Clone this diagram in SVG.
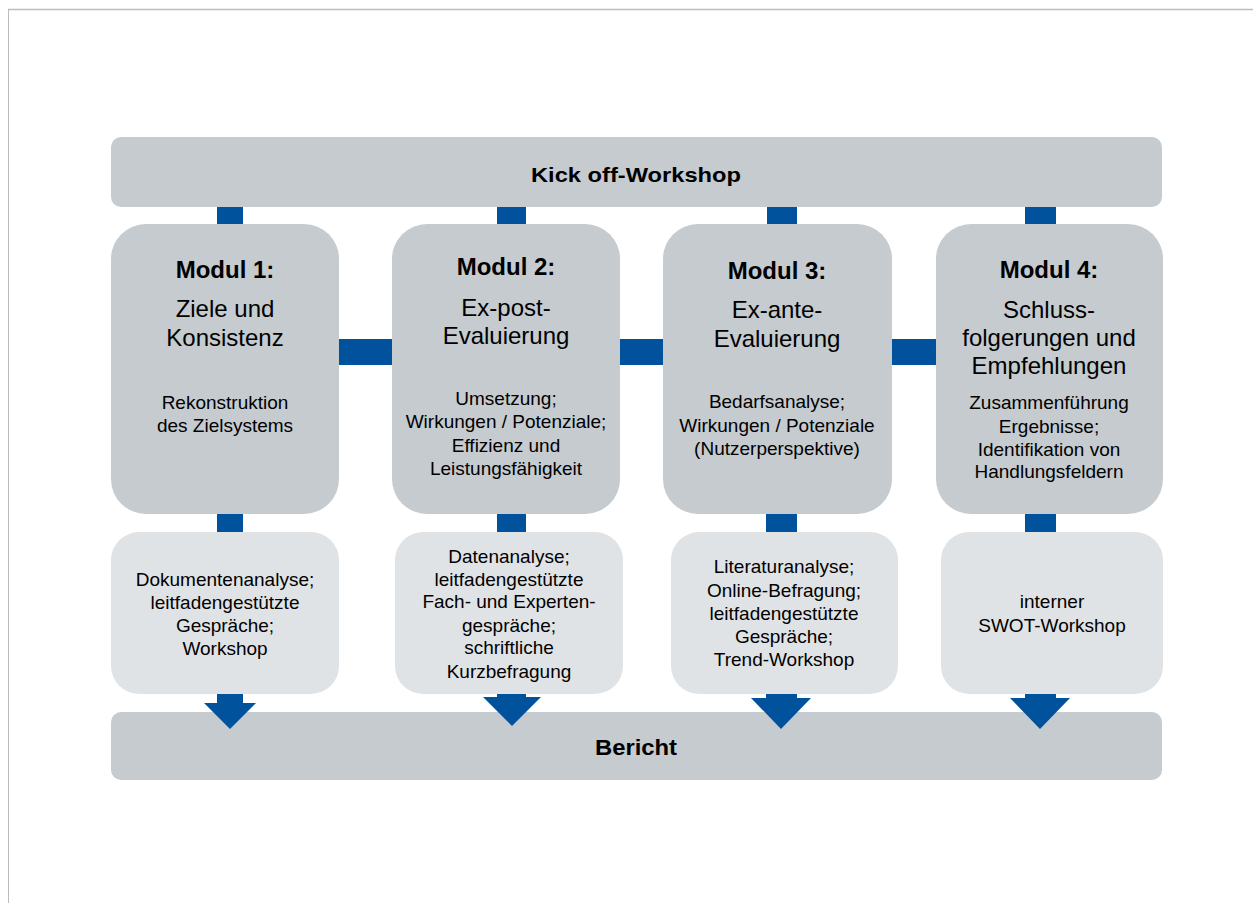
<svg xmlns="http://www.w3.org/2000/svg" width="1253" height="903" viewBox="0 0 1253 903">
<style>
text{font-family:"Liberation Sans",Arial,sans-serif;fill:#000;text-anchor:middle}
.bar{fill:#c5cbcf}
.mod{fill:#c5cbcf}
.low{fill:#e0e3e6}
.con{fill:#00529c}
.b{font-weight:bold}
.t{font-size:24px}
.s{font-size:19px}
.frame{stroke:#bcbcbc;fill:none}
</style>
<line class="frame" x1="8" y1="9.5" x2="1253" y2="9.5" stroke-width="1.6"/>
<line class="frame" x1="8.5" y1="9" x2="8.5" y2="903" stroke-width="1"/>
<g id="connectors">
<rect class="con" x="217" y="205" width="26" height="21"/>
<rect class="con" x="497" y="205" width="29" height="21"/>
<rect class="con" x="767" y="205" width="30" height="21"/>
<rect class="con" x="1025" y="205" width="31" height="21"/>
<rect class="con" x="337" y="339" width="57" height="26"/>
<rect class="con" x="618" y="339" width="47" height="26"/>
<rect class="con" x="890" y="339" width="48" height="26"/>
<rect class="con" x="217" y="512" width="26" height="22"/>
<rect class="con" x="497" y="512" width="29" height="22"/>
<rect class="con" x="766" y="512" width="31" height="22"/>
<rect class="con" x="1025" y="512" width="31" height="22"/>
</g>
<g id="kickoff">
<rect class="bar" x="111" y="137" width="1051" height="70" rx="10"/>
<text class="b" x="636" y="182" font-size="21" textLength="210" lengthAdjust="spacingAndGlyphs">Kick off-Workshop</text>
</g>
<g id="modul1">
<rect class="mod" x="111" y="224" width="228" height="290" rx="35"/>
<text class="b t" x="225" y="278">Modul 1:</text>
<text class="t" x="225" y="317">Ziele und</text>
<text class="t" x="225" y="346">Konsistenz</text>
<text class="s" x="225" y="409">Rekonstruktion</text>
<text class="s" x="225" y="432">des Zielsystems</text>
</g>
<g id="modul2">
<rect class="mod" x="392" y="224" width="228" height="290" rx="35"/>
<text class="b t" x="506" y="275">Modul 2:</text>
<text class="t" x="506" y="316">Ex-post-</text>
<text class="t" x="506" y="344">Evaluierung</text>
<text class="s" x="506" y="405">Umsetzung;</text>
<text class="s" x="506" y="428">Wirkungen / Potenziale;</text>
<text class="s" x="506" y="452">Effizienz und</text>
<text class="s" x="506" y="475">Leistungsfähigkeit</text>
</g>
<g id="modul3">
<rect class="mod" x="663" y="224" width="229" height="290" rx="35"/>
<text class="b t" x="777" y="279">Modul 3:</text>
<text class="t" x="777" y="318">Ex-ante-</text>
<text class="t" x="777" y="347">Evaluierung</text>
<text class="s" x="777" y="408">Bedarfsanalyse;</text>
<text class="s" x="777" y="432">Wirkungen / Potenziale</text>
<text class="s" x="777" y="455">(Nutzerperspektive)</text>
</g>
<g id="modul4">
<rect class="mod" x="936" y="224" width="227" height="290" rx="35"/>
<text class="b t" x="1049" y="278">Modul 4:</text>
<text class="t" x="1049" y="318">Schluss-</text>
<text class="t" x="1049" y="346">folgerungen und</text>
<text class="t" x="1049" y="374">Empfehlungen</text>
<text class="s" x="1049" y="409">Zusammenführung</text>
<text class="s" x="1049" y="433">Ergebnisse;</text>
<text class="s" x="1049" y="456">Identifikation von</text>
<text class="s" x="1049" y="478">Handlungsfeldern</text>
</g>
<g id="methoden1">
<rect class="low" x="111" y="532" width="228" height="162" rx="28"/>
<text class="s" x="225" y="586">Dokumentenanalyse;</text>
<text class="s" x="225" y="609">leitfadengestützte</text>
<text class="s" x="225" y="632">Gespräche;</text>
<text class="s" x="225" y="655">Workshop</text>
</g>
<g id="methoden2">
<rect class="low" x="395" y="532" width="228" height="162" rx="28"/>
<text class="s" x="509" y="563">Datenanalyse;</text>
<text class="s" x="509" y="586">leitfadengestützte</text>
<text class="s" x="509" y="608">Fach- und Experten-</text>
<text class="s" x="509" y="632">gespräche;</text>
<text class="s" x="509" y="654">schriftliche</text>
<text class="s" x="509" y="678">Kurzbefragung</text>
</g>
<g id="methoden3">
<rect class="low" x="671" y="532" width="227" height="162" rx="28"/>
<text class="s" x="784" y="573">Literaturanalyse;</text>
<text class="s" x="784" y="597">Online-Befragung;</text>
<text class="s" x="784" y="620">leitfadengestützte</text>
<text class="s" x="784" y="643">Gespräche;</text>
<text class="s" x="784" y="666">Trend-Workshop</text>
</g>
<g id="methoden4">
<rect class="low" x="941" y="532" width="222" height="162" rx="28"/>
<text class="s" x="1052" y="608">interner</text>
<text class="s" x="1052" y="632">SWOT-Workshop</text>
</g>
<g id="bericht">
<rect class="bar" x="111" y="712" width="1051" height="68" rx="10"/>
<text class="b" x="636" y="755" font-size="22" textLength="82" lengthAdjust="spacingAndGlyphs">Bericht</text>
</g>
<g id="arrows">
<rect class="con" x="217" y="694" width="26" height="10"/>
<polygon class="con" points="204,703 256,703 230,729"/>
<rect class="con" x="497" y="694" width="29" height="4"/>
<polygon class="con" points="483,697 541,697 512,726"/>
<rect class="con" x="766" y="694" width="31" height="5"/>
<polygon class="con" points="751,698 811,698 781,729"/>
<rect class="con" x="1025" y="694" width="31" height="5"/>
<polygon class="con" points="1010,698 1070,698 1040,729"/>
</g>
</svg>
